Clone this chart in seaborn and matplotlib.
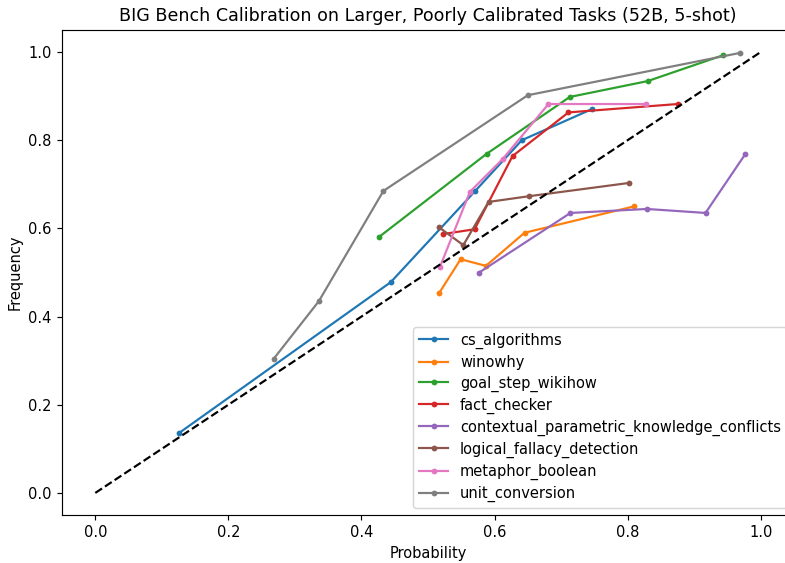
import matplotlib
matplotlib.use("Agg")
import matplotlib.pyplot as plt
import seaborn as sns
import pandas as pd

# --- calibration curves (52B, 5-shot) ---
task_names = [
    "cs_algorithms",
    "winowhy",
    "goal_step_wikihow",
    "fact_checker",
    "contextual_parametric_knowledge_conflicts",
    "logical_fallacy_detection",
    "metaphor_boolean",
    "unit_conversion",
]

cs_algorithms_x = [0.126, 0.444, 0.571, 0.641, 0.747]
cs_algorithms_y = [0.136, 0.478, 0.685, 0.800, 0.871]

winowhy_x = [0.517, 0.549, 0.587, 0.645, 0.810]
winowhy_y = [0.454, 0.530, 0.515, 0.590, 0.650]

goal_step_x = [0.426, 0.588, 0.713, 0.830, 0.944]
goal_step_y = [0.580, 0.769, 0.898, 0.934, 0.993]

fact_checker_x = [0.522, 0.570, 0.627, 0.711, 0.875]
fact_checker_y = [0.587, 0.598, 0.764, 0.863, 0.882]

contextual_x = [0.576, 0.714, 0.829, 0.917, 0.977]
contextual_y = [0.499, 0.635, 0.644, 0.635, 0.769]

logical_x = [0.516, 0.553, 0.591, 0.652, 0.802]
logical_y = [0.603, 0.562, 0.660, 0.673, 0.703]

metaphor_x = [0.518, 0.563, 0.612, 0.681, 0.827]
metaphor_y = [0.513, 0.683, 0.757, 0.882, 0.882]

unit_x = [0.268, 0.336, 0.433, 0.650, 0.969]
unit_y = [0.304, 0.435, 0.685, 0.902, 0.998]

series_x = [cs_algorithms_x, winowhy_x, goal_step_x, fact_checker_x,
            contextual_x, logical_x, metaphor_x, unit_x]
series_y = [cs_algorithms_y, winowhy_y, goal_step_y, fact_checker_y,
            contextual_y, logical_y, metaphor_y, unit_y]

palette = sns.color_palette("tab10")

# reference text is ~5% larger than a 100 dpi render, so draw at 105 dpi
DPI = 105
fig = plt.figure(figsize=(785 / DPI, 563 / DPI), dpi=DPI)
# the reference is cropped on the right: the axes run a little past the edge
ax = fig.add_axes([0.079, 0.0853, 0.9325, 0.8615])

for i, name in enumerate(task_names):
    df = pd.DataFrame({"Probability": series_x[i], "Frequency": series_y[i]})
    sns.lineplot(data=df, x="Probability", y="Frequency", ax=ax, sort=False,
                 color=palette[i], marker="o", markersize=4, markeredgewidth=0,
                 linewidth=1.5, label=name)

ax.plot([0, 1], [0, 1], linestyle="--", color="black", linewidth=1.5)

ax.set_xlim(-0.05, 1.05)
ax.set_ylim(-0.05, 1.05)
ax.set_xlabel("Probability")
ax.set_ylabel("Frequency")
ax.set_title("BIG Bench Calibration on Larger, Poorly Calibrated Tasks (52B, 5-shot)")
ax.legend(loc="lower right", labelspacing=0.4)

plt.savefig("out.png", dpi=DPI)
